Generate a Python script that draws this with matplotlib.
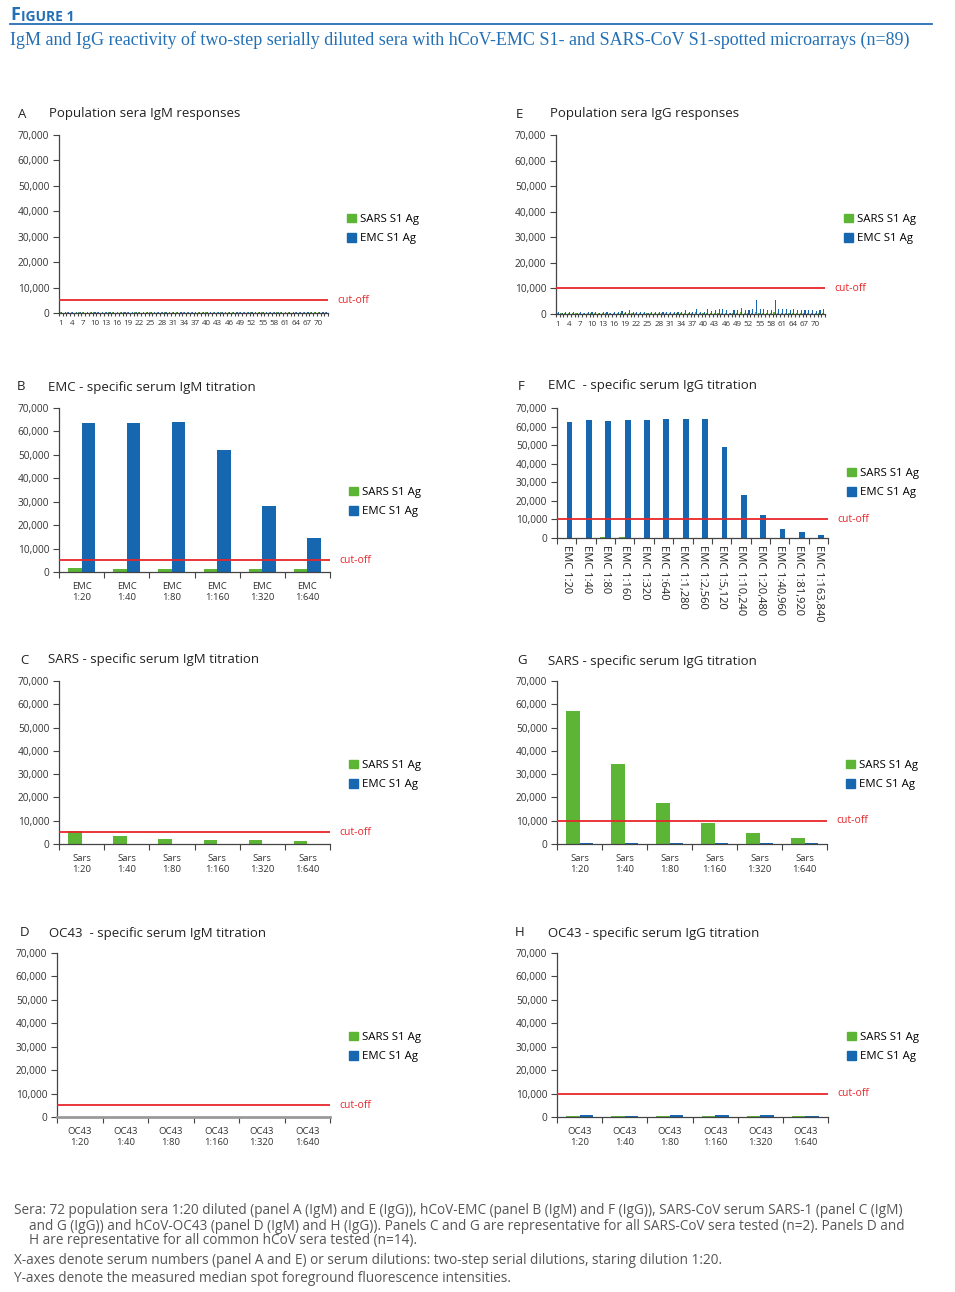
import matplotlib
matplotlib.use("Agg")
import matplotlib.pyplot as plt
from matplotlib.patches import Patch
from matplotlib.lines import Line2D
from matplotlib.ticker import FuncFormatter

plt.rcParams['font.family'] = ['Open Sans', 'DejaVu Sans']

GREEN = '#5db535'
BLUE = '#1766b0'
RED = '#e8262b'
HEAD_BLUE = '#2470b5'
AX_COL = '#444444'

# ---- data (median spot foreground fluorescence) ----
pop_sera = [str(i) for i in range(1, 73)]

igm_pop_sars = [220, 180, 250, 200, 190, 230, 210, 180, 240, 200, 220, 190, 210, 230, 200, 180,
                220, 250, 200, 190, 210, 230, 180, 200, 220, 190, 240, 210, 200, 180, 230, 220,
                190, 200, 250, 210, 180, 220, 200, 230, 190, 210, 240, 200, 180, 220, 210, 190,
                230, 200, 250, 210, 180, 220, 200, 190, 230, 210, 240, 200, 180, 220, 190, 210,
                230, 200, 180, 220, 250, 210, 190, 200]
igm_pop_emc = [300, 260, 320, 280, 250, 310, 290, 270, 330, 260, 300, 280, 310, 290, 260, 300,
               280, 340, 270, 300, 320, 260, 290, 310, 280, 270, 300, 330, 260, 290, 310, 280,
               270, 300, 350, 290, 260, 320, 280, 300, 270, 310, 340, 290, 260, 300, 280, 310,
               330, 270, 360, 300, 280, 320, 290, 270, 310, 290, 350, 280, 260, 300, 290, 310,
               320, 280, 270, 300, 340, 290, 280, 300]

igg_pop_sars = [400, 350, 450, 380, 420, 360, 400, 340, 430, 390, 410, 370, 450, 380, 360, 400,
                420, 500, 380, 450, 400, 370, 420, 390, 360, 410, 380, 430, 400, 370, 460, 420,
                390, 380, 550, 420, 400, 600, 380, 400, 550, 450, 500, 520, 480, 450, 350, 500,
                520, 600, 480, 500, 550, 700, 520, 500, 480, 460, 700, 520, 500, 480, 460, 550,
                480, 450, 470, 460, 480, 420, 450, 500]
igg_pop_emc = [600, 500, 600, 700, 600, 500, 600, 500, 600, 700, 600, 500, 800, 600, 500, 600,
               700, 1300, 700, 1500, 600, 700, 600, 700, 500, 600, 600, 700, 600, 700, 900, 700,
               600, 700, 1500, 800, 700, 1800, 700, 600, 1800, 1300, 1500, 1800, 1800, 1500, 500, 1500,
               1600, 2200, 1500, 1600, 1900, 5400, 1800, 1800, 1600, 1600, 5400, 1800, 1800, 1800,
               1600, 2000, 1600, 1500, 1600, 1500, 1600, 1300, 1500, 1800]

dil6 = ['1:20', '1:40', '1:80', '1:160', '1:320', '1:640']
emc_cats = ['EMC\n' + d for d in dil6]
sars_cats = ['Sars\n' + d for d in dil6]
oc43_cats = ['OC43\n' + d for d in dil6]
emc_igg_cats = ['EMC 1:20', 'EMC 1:40', 'EMC 1:80', 'EMC 1:160', 'EMC 1:320', 'EMC 1:640',
                'EMC 1:1,280', 'EMC 1:2,560', 'EMC 1:5,120', 'EMC 1:10,240', 'EMC 1:20,480',
                'EMC 1:40,960', 'EMC 1:81,920', 'EMC 1:163,840']

igm_emc_sars = [1500, 1400, 1400, 1400, 1400, 1300]
igm_emc_emc = [63800, 63800, 64000, 52000, 28000, 14500]
igg_emc_sars = [250, 200, 300, 300, 250, 200, 200, 200, 200, 200, 200, 200, 200, 200]
igg_emc_emc = [62500, 63300, 63000, 63300, 63800, 64000, 64000, 64000, 48800, 23000, 12500,
               4800, 3300, 1500]
igm_sars_sars = [5500, 3500, 2300, 1800, 1700, 1400]
igm_sars_emc = [100, 80, 80, 70, 70, 60]
igg_sars_sars = [57000, 34300, 17500, 9100, 4600, 2700]
igg_sars_emc = [500, 400, 400, 400, 400, 500]
igm_oc43_sars = [150, 120, 130, 120, 110, 100]
igm_oc43_emc = [200, 180, 190, 170, 160, 150]
igg_oc43_sars = [300, 250, 280, 260, 300, 250]
igg_oc43_emc = [800, 500, 900, 700, 800, 500]

cut_igm = 5000
cut_igg = 10000

W, H = 955, 1292
fig = plt.figure(figsize=(W / 100, H / 100), dpi=100)


def fx(x):
    return x / W


def fy(y):
    return 1 - y / H


def panel(x0, ytop, x1, ybot, cats, sars, emc, cut, letter, title, lx, tx, ty, leg_y,
          small=False, rotate=False):
    ax = fig.add_axes([fx(x0), fy(ybot), fx(x1 - x0), (ybot - ytop) / H])
    n = len(cats)
    idx = list(range(n))
    ax.bar([i - 0.15 for i in idx], sars, width=0.3, color=GREEN, zorder=2)
    ax.bar([i + 0.15 for i in idx], emc, width=0.3, color=BLUE, zorder=2)
    ax.axhline(cut, color=RED, lw=1.3, zorder=3)
    ax.set_xlim(-0.5, n - 0.5)
    ax.set_ylim(0, 70000)
    ax.set_yticks(range(0, 70001, 10000))
    ax.yaxis.set_major_formatter(FuncFormatter(lambda v, p: f'{int(v):,}'))
    ax.tick_params(axis='y', labelsize=7.3, length=4, color=AX_COL, labelcolor='#333333', pad=3)
    for s in ['top', 'right']:
        ax.spines[s].set_visible(False)
    for s in ['left', 'bottom']:
        ax.spines[s].set_color(AX_COL)
        ax.spines[s].set_linewidth(0.9)
    # boundaries as tick marks, labels at the centres
    ax.set_xticks([i - 0.5 for i in range(n + 1)])
    ax.set_xticklabels([])
    ax.tick_params(axis='x', which='major', length=2.5 if small else 4, color=AX_COL)
    if small:
        ax.set_xticks(idx[::3], minor=True)
        ax.set_xticklabels(cats[::3], minor=True)
        ax.tick_params(axis='x', which='minor', length=0, labelsize=5.8, pad=5, labelcolor='#333333')
    else:
        ax.set_xticks(idx, minor=True)
        if rotate:
            ax.set_xticklabels(cats, minor=True, rotation=270)
            ax.tick_params(axis='x', which='minor', length=0, labelsize=8, pad=5, labelcolor='#222222')
        else:
            ax.set_xticklabels(cats, minor=True, linespacing=1.3)
            ax.tick_params(axis='x', which='minor', length=0, labelsize=6.8, pad=7, labelcolor='#333333')
    # cut-off label just right of the axes, at the cut-off level
    ax.text((x1 + 9 - x0) / (x1 - x0), cut, 'cut-off', transform=ax.get_yaxis_transform(),
            color=RED, fontsize=7.5, va='center', ha='left', clip_on=False)
    fig.text(fx(lx), fy(ty), letter, fontsize=9.5, va='center', ha='left', color='#222222')
    fig.text(fx(tx), fy(ty), title, fontsize=9.5, va='center', ha='left', color='#222222')
    handles = [Patch(color=GREEN), Patch(color=BLUE)]
    ax.legend(handles, ['SARS S1 Ag', 'EMC S1 Ag'], loc='center left',
              bbox_to_anchor=(fx(x1 + 19), fy(leg_y)), bbox_transform=fig.transFigure,
              frameon=False, fontsize=8.2, handlelength=0.75, handleheight=0.75,
              handletextpad=0.4, labelspacing=0.75, borderpad=0, borderaxespad=0)
    return ax


axes = []
axes.append(panel(59, 135, 328, 313, pop_sera, igm_pop_sars, igm_pop_emc, cut_igm,
                  'A', 'Population sera IgM responses', 18, 49, 114, 229, small=True))
axes.append(panel(556, 135, 825, 314, pop_sera, igg_pop_sars, igg_pop_emc, cut_igg,
                  'E', 'Population sera IgG responses', 516, 550, 114, 229, small=True))
axes.append(panel(59, 408, 330, 572, emc_cats, igm_emc_sars, igm_emc_emc, cut_igm,
                  'B', 'EMC - specific serum IgM titration', 17, 48, 387, 502))
axes.append(panel(557, 408, 828, 538, emc_igg_cats, igg_emc_sars, igg_emc_emc, cut_igg,
                  'F', 'EMC  - specific serum IgG titration', 518, 548, 386, 483, rotate=True))
axes.append(panel(59, 681, 330, 844, sars_cats, igm_sars_sars, igm_sars_emc, cut_igm,
                  'C', 'SARS - specific serum IgM titration', 20, 48, 660, 775))
axes.append(panel(557, 681, 827, 844, sars_cats, igg_sars_sars, igg_sars_emc, cut_igg,
                  'G', 'SARS - specific serum IgG titration', 517, 548, 661, 775))
axes.append(panel(57, 953, 330, 1117, oc43_cats, igm_oc43_sars, igm_oc43_emc, cut_igm,
                  'D', 'OC43  - specific serum IgM titration', 20, 49, 933, 1047))
axes.append(panel(557, 953, 828, 1117, oc43_cats, igg_oc43_sars, igg_oc43_emc, cut_igg,
                  'H', 'OC43 - specific serum IgG titration', 515, 548, 933, 1047))

# panel D baseline looks grey and heavy
axes[6].spines['bottom'].set_color('#9a9a9a')
axes[6].spines['bottom'].set_linewidth(2)

# header
f1 = fig.text(fx(10), fy(20), 'F', fontsize=13, fontweight='bold', color=HEAD_BLUE,
              va='baseline', ha='left')
axes[0].annotate('IGURE 1', xy=(1, 0), xycoords=f1, xytext=(0.5, 0), textcoords='offset points',
                 fontsize=10, fontweight='bold', color=HEAD_BLUE, va='bottom', ha='left',
                 annotation_clip=False)
fig.add_artist(Line2D([fx(10), fx(932)], [fy(24), fy(24)], color=HEAD_BLUE, lw=1.3))
fig.text(fx(10), fy(40), 'IgM and IgG reactivity of two-step serially diluted sera with hCoV-EMC S1- '
         'and SARS-CoV S1-spotted microarrays (n=89)', family='Liberation Serif', fontsize=13,
         color=HEAD_BLUE, va='center', ha='left')

# footer
FOOT = '#555555'
FS = 9.8
fig.text(fx(14), fy(1211), 'Sera: 72 population sera 1:20 diluted (panel A (IgM) and E (IgG)), hCoV-EMC '
         '(panel B (IgM) and F (IgG)), SARS-CoV serum SARS-1 (panel C (IgM)', fontsize=FS, color=FOOT,
         va='center', ha='left')
fig.text(fx(29), fy(1226), 'and G (IgG)) and hCoV-OC43 (panel D (IgM) and H (IgG)). Panels C and G are '
         'representative for all SARS-CoV sera tested (n=2). Panels D and', fontsize=FS, color=FOOT,
         va='center', ha='left')
fig.text(fx(29), fy(1240), 'H are representative for all common hCoV sera tested (n=14).', fontsize=FS,
         color=FOOT, va='center', ha='left')
fig.text(fx(14), fy(1260), 'X-axes denote serum numbers (panel A and E) or serum dilutions: two-step serial '
         'dilutions, staring dilution 1:20.', fontsize=FS, color=FOOT, va='center', ha='left')
fig.text(fx(14), fy(1279), 'Y-axes denote the measured median spot foreground fluorescence intensities.',
         fontsize=FS, color=FOOT, va='center', ha='left')

fig.savefig('out.png', dpi=100)
